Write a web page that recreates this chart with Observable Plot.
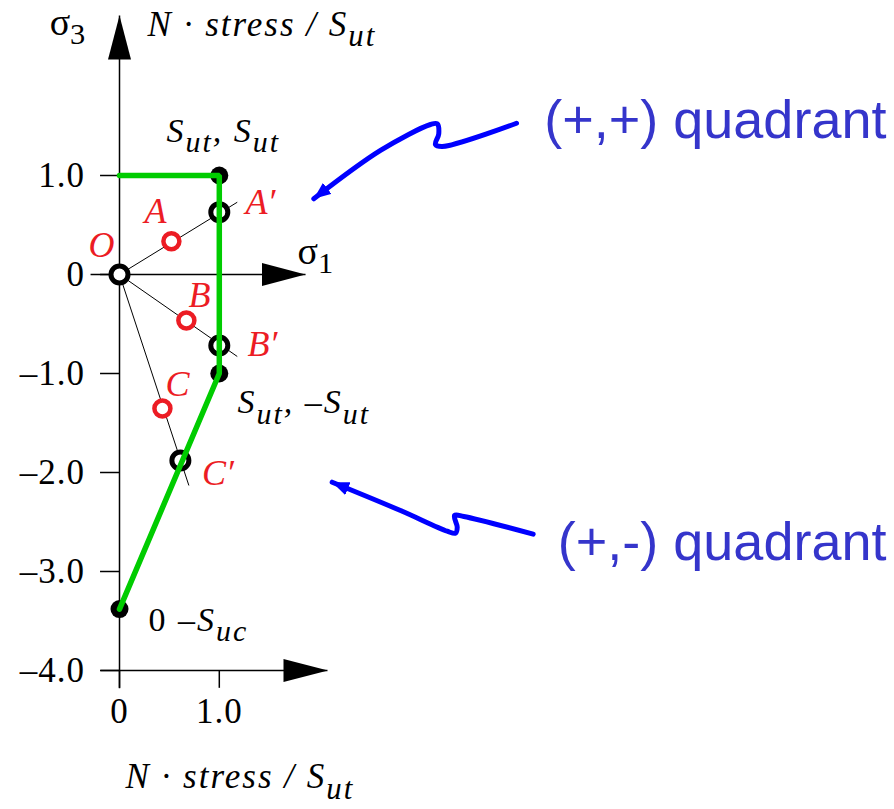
<!DOCTYPE html>
<html>
<head>
<meta charset="utf-8">
<script src="https://cdn.jsdelivr.net/npm/d3@7"></script>
<script src="https://cdn.jsdelivr.net/npm/@observablehq/plot@0.6"></script>
<style>
  body { margin: 0; background: #fff; }
</style>
</head>
<body>
<div id="chart"></div>
<script>
// Axis ticks (stress normalized by Sut)
const yTicks = [1, 0, -1, -2, -3, -4];
const yTickLabels = ["1.0", "0", "–1.0", "–2.0", "–3.0", "–4.0"];
const xTicks = [0, 1];
const xTickLabels = ["0", "1.0"];

// Modified-Mohr failure envelope: (0,Sut) → (Sut,Sut) → (Sut,−Sut) → (0,−Suc)
const envelopeX = [0, 1, 1, 0];
const envelopeY = [1, 1, -1, -3.38];

// Corner points of the envelope and their labels
const cornerX = [1, 1, 0];
const cornerY = [1, -1, -3.38];
const cornerLabels = ["S_{ut}, S_{ut}", "S_{ut}, –S_{ut}", "[0 –]S_{uc}"];
const cornerLabelX = [0.471, 1.182, 0.291];
const cornerLabelY = [1.343, -1.404, -3.596];

// Load points A, B, C and where their load lines reach the envelope (A′, B′, C′)
const loadNames = ["A", "B", "C"];
const loadX = [0.52, 0.67, 0.43];
const loadY = [0.336, -0.465, -1.354];
const loadLabelX = [0.361, 0.802, 0.581];
const loadLabelY = [0.636, -0.212, -1.111];
const failNames = ["A′", "B′", "C′"];
const failX = [1, 1, 0.61];
const failY = [0.63, -0.717, -1.879];
const failLabelX = [1.413, 1.433, 0.987];
const failLabelY = [0.727, -0.707, -2.01];
const rayEndX = [1.18, 1.18, 0.695];
const rayEndY = [0.73, -0.828, -2.131];

// Axis lines with arrowheads
const axisX1 = [0, -0.29, -0.19];
const axisY1 = [-4.18, 0, -4];
const axisX2 = [0, 1.864, 2.084];
const axisY2 = [2.616, 0, -4];

// Axis titles
const sigmaTitles = ["σ_{3}", "σ_{1}"];
const sigmaTitleX = [-0.70, 1.784];
const sigmaTitleY = [2.424, 0.11];
const stressTitles = ["N · stress / S_{ut}", "N · stress / S_{ut}"];
const stressTitleX = [0.281, 0.06];
const stressTitleY = [2.414, -5.19];

// Quadrant call-outs
const quadrantLabels = ["(+,+) quadrant", "(+,-) quadrant"];
const quadrantLabelX = [7.685, 7.685];
const quadrantLabelY = [1.374, -2.88];
const upperArrowX = [3.978, 3.233, 3.166, 3.199, 3.183, 3.116, 2.615, 1.947];
const upperArrowY = [1.528, 1.293, 1.313, 1.421, 1.522, 1.515, 1.253, 0.765];
const lowerArrowX = [4.145, 3.450, 3.357, 3.384, 3.367, 3.284, 2.816, 2.131];
const lowerArrowY = [-2.623, -2.444, -2.434, -2.553, -2.613, -2.593, -2.384, -2.098];

// ---- tables built from the arrays above ----
const zip = (xs, ys, extra = {}) =>
  xs.map((x, i) => Object.fromEntries([["x", x], ["y", ys[i]], ...Object.entries(extra).map(([k, v]) => [k, v[i]])]));

const envelope = zip(envelopeX, envelopeY);
const corners = zip(cornerX, cornerY);
const cornerText = zip(cornerLabelX, cornerLabelY, {label: cornerLabels});
const loads = zip(loadX, loadY);
const loadText = zip(loadLabelX, loadLabelY, {label: loadNames});
const fails = zip(failX, failY);
const failText = zip(failLabelX, failLabelY, {label: failNames});
const rays = zip(rayEndX, rayEndY);
const axes = axisX1.map((x1, i) => ({x1, y1: axisY1[i], x2: axisX2[i], y2: axisY2[i]}));
const sigmas = zip(sigmaTitleX, sigmaTitleY, {label: sigmaTitles});
const stressTitleRows = zip(stressTitleX, stressTitleY, {label: stressTitles});
const quadrants = zip(quadrantLabelX, quadrantLabelY, {label: quadrantLabels});
const upperArrow = zip(upperArrowX, upperArrowY);
const lowerArrow = zip(lowerArrowX, lowerArrowY);

// Filled triangular arrowhead as a custom Plot marker
const arrowHead = (len, half) => (color, context) => {
  const ns = "http://www.w3.org/2000/svg";
  const doc = context.document;
  const m = doc.createElementNS(ns, "marker");
  m.setAttribute("viewBox", `0 ${-half} ${len} ${2 * half}`);
  m.setAttribute("markerUnits", "userSpaceOnUse");
  m.setAttribute("markerWidth", len);
  m.setAttribute("markerHeight", 2 * half);
  m.setAttribute("refX", len);
  m.setAttribute("refY", 0);
  m.setAttribute("orient", "auto");
  const p = doc.createElementNS(ns, "path");
  p.setAttribute("d", `M0,${-half}L${len},0L0,${half}Z`);
  p.setAttribute("fill", color);
  p.setAttribute("stroke", "none");
  m.appendChild(p);
  return m;
};

const serif = "Liberation Serif, Times New Roman, serif";
const red = "#ec1c24";

const chart = Plot.plot({
  width: 894,
  height: 809,
  margin: 0,
  style: {background: "white", overflow: "visible"},
  x: {domain: [0, 1], range: [119, 218.8], axis: null},
  y: {domain: [-4, 1], range: [670, 175], axis: null},
  marks: [
    // axes
    Plot.link(axes, {x1: "x1", y1: "y1", x2: "x2", y2: "y2", stroke: "black", strokeWidth: 1.5, markerEnd: arrowHead(44, 11.5)}),
    Plot.ruleY(yTicks, {y: d => d, x1: () => -0.19, x2: () => 0, stroke: "black", strokeWidth: 1.5}),
    Plot.ruleX(xTicks, {x: d => d, y1: () => -4, y2: () => -4.18, stroke: "black", strokeWidth: 1.5}),
    Plot.text(yTicks, {x: () => -0.345, y: d => d, text: (d, i) => yTickLabels[i], textAnchor: "end", fontSize: 35, fontFamily: serif}),
    Plot.text(xTicks, {x: d => d, y: () => -4.535, text: (d, i) => xTickLabels[i], lineAnchor: "bottom", fontSize: 35, fontFamily: serif}),
    // axis titles
    Plot.text(sigmas, {x: "x", y: "y", text: "label", textAnchor: "start", lineAnchor: "bottom", fontSize: 38, fontFamily: serif}),
    Plot.text(stressTitleRows, {x: "x", y: "y", text: "label", textAnchor: "start", lineAnchor: "bottom", fontSize: 35, fontStyle: "italic", fontFamily: serif}),
    // load lines from the origin
    Plot.link(rays, {x1: () => 0, y1: () => 0, x2: "x", y2: "y", stroke: "black", strokeWidth: 1}),
    // points
    Plot.dot(loads, {x: "x", y: "y", r: 8, stroke: red, strokeWidth: 4.5, fill: "white"}),
    Plot.dot([{x: 0, y: 0}, ...fails], {x: "x", y: "y", r: 8.5, stroke: "black", strokeWidth: 5, fill: "white"}),
    Plot.dot(corners, {x: "x", y: "y", r: 9, fill: "black"}),
    // failure envelope
    Plot.line(envelope, {x: "x", y: "y", stroke: "#00cc00", strokeWidth: 5.5, strokeLinejoin: "miter"}),
    // point labels
    Plot.text([{x: -0.18, y: 0.293, label: "O"}, ...loadText, ...failText], {x: "x", y: "y", text: "label", fill: red, fontSize: 36, fontStyle: "italic", fontFamily: serif}),
    Plot.text(cornerText, {x: "x", y: "y", text: "label", textAnchor: "start", lineAnchor: "bottom", fontSize: 34, fontStyle: "italic", fontFamily: serif}),
    // quadrant call-outs
    Plot.line(upperArrow, {x: "x", y: "y", curve: "catmull-rom", stroke: "#0000ff", strokeWidth: 5, markerEnd: arrowHead(17, 7)}),
    Plot.line(lowerArrow, {x: "x", y: "y", curve: "catmull-rom", stroke: "#0000ff", strokeWidth: 5, markerEnd: arrowHead(17, 7)}),
    Plot.text(quadrants, {x: "x", y: "y", text: "label", textAnchor: "end", lineAnchor: "bottom", fill: "#3535cb", fontSize: 54, fontFamily: "Liberation Sans, Arial, sans-serif"})
  ]
});

document.getElementById("chart").appendChild(chart);

const svg = d3.select(chart);

// Rich text: "_{...}" is a subscript, "[...]" is upright (roman) text.
// Subscripted labels are set with open tracking; tick labels slightly tracked.
svg.selectAll("text").each(function () {
  const src = this.textContent;
  if (/^[–0-9.]+$/.test(src)) { this.setAttribute("letter-spacing", 1); return; }
  if (!/_\{|\[/.test(src)) return;
  const isSigma = src.startsWith("σ");
  const subScale = isSigma ? 0.8 : 0.88;
  const subShift = isSigma ? 0.25 : 0.3;
  if (!isSigma) this.setAttribute("letter-spacing", 2);
  const size = parseFloat(getComputedStyle(this).fontSize);
  const sel = d3.select(this).text(null);
  const re = /_\{([^}]*)\}|\[([^\]]*)\]|([^_\[]+)/g;
  let m, shift = 0;
  while ((m = re.exec(src))) {
    const t = sel.append("tspan");
    const target = m[1] != null ? size * subShift : 0;
    if (target !== shift) t.attr("dy", target - shift);
    shift = target;
    if (m[1] != null) t.attr("font-size", size * subScale).text(m[1]);
    else if (m[2] != null) t.attr("font-style", "normal").text(m[2]);
    else t.text(m[3]);
  }
});
</script>
</body>
</html>
